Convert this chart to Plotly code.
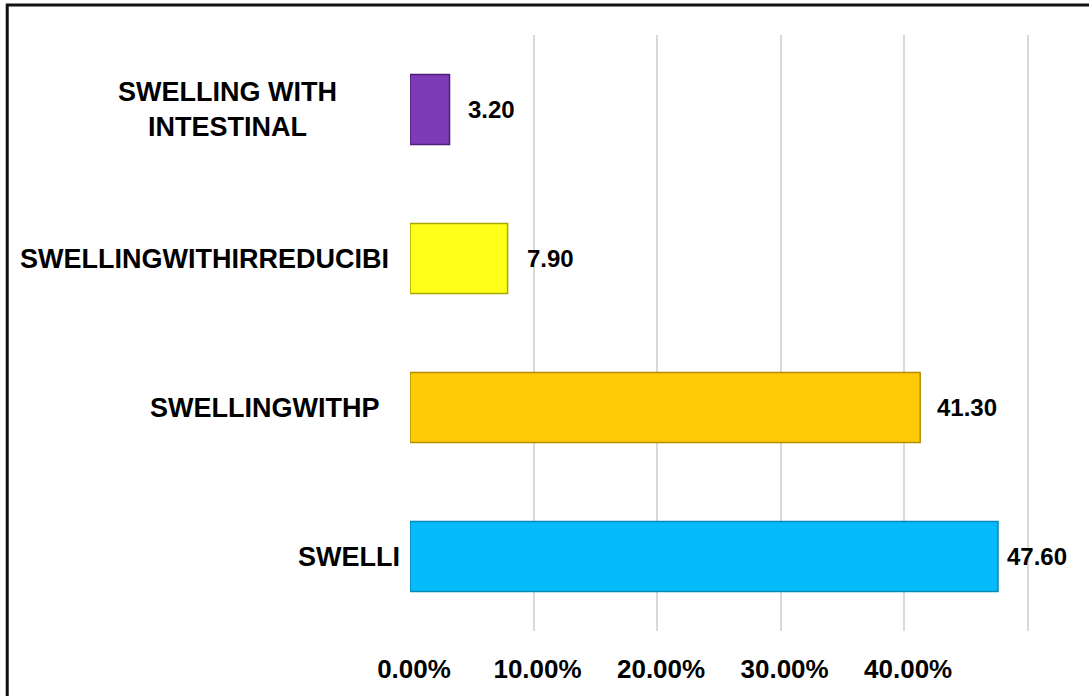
import plotly.graph_objects as go

# ---- data ----
categories = ["SWELLI", "SWELLINGWITHP", "SWELLINGWITHIRREDUCIBI", "SWELLING WITH INTESTINAL"]
category_labels = ["SWELLI", "SWELLINGWITHP", "SWELLINGWITHIRREDUCIBI", "SWELLING WITH<br>INTESTINAL"]
values = [47.6, 41.3, 7.9, 3.2]
tick_vals = [0, 10, 20, 30, 40, 50]
tick_text = ["0.00%", "10.00%", "20.00%", "30.00%", "40.00%", ""]

# ---- style ----
fill_colors = ["#06BBFB", "#FFCB08", "#FFFF1A", "#7E3BB8"]
edge_colors = ["#0789B8", "#B48E00", "#A8A800", "#4E1F7A"]
label_centers_px = [349, 264, 204, 227]   # horizontal centre of category labels (px)
value_gap_px = [7, 15, 17, 16]            # gap between bar end and value label (px)
FONT = "Liberation Sans, Arial, sans-serif"

X_MAX = 51
L, T, B = 410, 35, 65
W, H = 1089, 696
PX_PER_UNIT = 12.36
plot_w = X_MAX * PX_PER_UNIT
R = W - L - plot_w
plot_h = H - T - B

fig = go.Figure()
fig.add_trace(go.Bar(
    y=categories,
    x=values,
    orientation="h",
    marker=dict(color=fill_colors, line=dict(color=edge_colors, width=1.5)),
    hoverinfo="skip",
))

# value labels
for cat, v, gap in zip(categories, values, value_gap_px):
    fig.add_annotation(
        x=v, xref="x", xanchor="left", xshift=gap,
        y=cat, yref="y", yanchor="middle",
        text="<b>%.2f</b>" % v, showarrow=False,
        font=dict(family=FONT, size=24, color="black"),
    )

# category labels
for cat, lab, cx in zip(categories, category_labels, label_centers_px):
    fig.add_annotation(
        x=(cx - L) / plot_w, xref="paper", xanchor="center",
        y=cat, yref="y", yanchor="middle", align="center",
        text="<b>%s</b>" % lab, showarrow=False,
        font=dict(family=FONT, size=27, color="black"),
    )

# outer frame (left/top visible)
fig.add_shape(type="rect", xref="paper", yref="paper",
              x0=(7 - L) / plot_w, x1=(W + 20 - L) / plot_w,
              y0=-(B + 20) / plot_h, y1=(H - B - 5) / plot_h,
              line=dict(color="#111111", width=3), layer="above")

fig.update_layout(
    width=W, height=H,
    margin=dict(l=L, r=R, t=T, b=B),
    paper_bgcolor="white", plot_bgcolor="white",
    bargap=0.53,
    showlegend=False,
    xaxis=dict(
        range=[0, X_MAX], tickvals=tick_vals, ticktext=tick_text,
        showgrid=True, gridcolor="#D9D9D9", gridwidth=2,
        zeroline=True, zerolinecolor="white", zerolinewidth=2,
        showline=False, ticks="", ticklabelstandoff=20, ticklabelshift=4,
        tickfont=dict(family=FONT, size=26, color="black", weight="bold"),
        fixedrange=True,
    ),
    yaxis=dict(showticklabels=False, showgrid=False, zeroline=False, showline=False,
               fixedrange=True),
)

fig.write_html("out.html",
               config={"displayModeBar": False},
               post_script="document.body.style.margin='0';document.body.style.overflow='hidden';")
